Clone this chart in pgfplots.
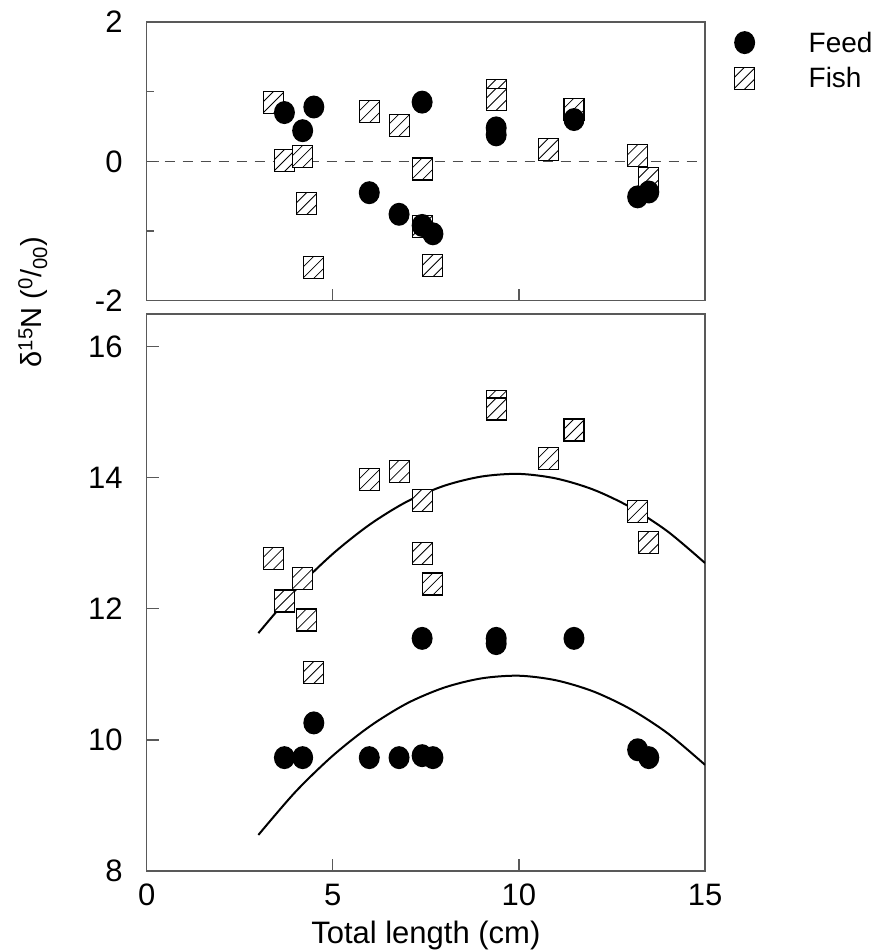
\documentclass[border=0pt]{standalone}
\usepackage{fontspec}
\setmainfont{Liberation Sans}
\usepackage{pgfplots}
\usepackage{pgfplotstable}
\pgfplotsset{compat=1.18}

% filled black ellipse (the source is slightly stretched vertically)
\pgfdeclareplotmark{feed}{%
  \pgfscope
  \pgfsetfillcolor{black}%
  \pgfpathellipse{\pgfpointorigin}{\pgfqpoint{10.5pt}{0pt}}{\pgfqpoint{0pt}{11.5pt}}%
  \pgfusepathqfill
  \endpgfscope}
% white square with three hatch lines
\pgfdeclareplotmark{fish}{%
  \pgfscope
  \pgfsetfillcolor{white}\pgfsetstrokecolor{black}%
  \pgfpathrectangle{\pgfqpoint{-10pt}{-11pt}}{\pgfqpoint{20pt}{22pt}}%
  \pgfusepathqfill
  \pgfscope
    \pgfpathrectangle{\pgfqpoint{-10pt}{-11pt}}{\pgfqpoint{20pt}{22pt}}%
    \pgfusepathqclip
    \pgfsetlinewidth{0.8pt}%
    \pgfpathmoveto{\pgfqpoint{-16pt}{-27pt}}\pgfpathlineto{\pgfqpoint{16pt}{5pt}}%
    \pgfpathmoveto{\pgfqpoint{-16pt}{-16pt}}\pgfpathlineto{\pgfqpoint{16pt}{16pt}}%
    \pgfpathmoveto{\pgfqpoint{-16pt}{-5pt}}\pgfpathlineto{\pgfqpoint{16pt}{27pt}}%
    \pgfusepathqstroke
  \endpgfscope
  \pgfsetlinewidth{1.1pt}%
  \pgfpathrectangle{\pgfqpoint{-10pt}{-11pt}}{\pgfqpoint{20pt}{22pt}}%
  \pgfusepathqstroke
  \endpgfscope}

% difference panel (top)
\pgfplotstableread{
len   d
3.40  0.84
3.70  0.01
4.19  0.07
4.29 -0.61
4.49 -1.52
5.98  0.71
6.78  0.52
7.40 -0.11
7.40 -0.93
7.69 -1.50
9.39  1.02
9.39  0.89
10.79 0.17
11.48 0.75
13.19 0.08
13.49 -0.25
}\fishtop
\pgfplotstableread{
len   d
3.70  0.70
4.19  0.44
4.49  0.78
5.98 -0.45
6.78 -0.76
7.40  0.85
7.40 -0.92
7.69 -1.04
9.39  0.48
9.39  0.38
11.48 0.60
13.19 -0.51
13.49 -0.44
}\feedtop
% absolute values (bottom)
\pgfplotstableread{
len   n
3.40  12.77
3.70  12.12
4.19  12.46
4.29  11.83
4.49  11.03
5.98  13.97
6.78  14.10
7.40  13.66
7.40  12.85
7.69  12.38
9.39  15.17
9.39  15.05
10.79 14.29
11.48 14.73
13.19 13.49
13.49 13.01
}\fishbot
\pgfplotstableread{
len   n
3.70  9.73
4.19  9.73
4.49  10.26
5.98  9.73
6.78  9.73
7.40  9.76
7.69  9.73
7.40  11.55
9.39  11.55
9.39  11.47
11.48 11.55
13.19 9.85
13.49 9.73
}\feedbot
% fitted curves
\pgfplotstableread{
len  fish   feed
3    11.63  8.55
4    12.29  9.21
5    12.84  9.76
6    13.29  10.21
7    13.64  10.56
8    13.88  10.80
9    14.02  10.94
10   14.06  10.98
11   13.99  10.91
12   13.82  10.74
13   13.55  10.47
14   13.18  10.10
15   12.70  9.62
}\fits

\pgfplotsset{
  panel/.style={
    scale only axis, width=558.3pt, xmin=0, xmax=15,
    axis line style={draw=black!65, line width=1.5pt},
    tick style={draw=black!65, line width=1.2pt},
    tick align=inside, xtick pos=bottom, ytick pos=left,
    major tick length=12pt, minor tick length=7pt,
    /pgf/number format/assume math mode=true,
    tick label style={font=\fontsize{31}{36}\selectfont, inner sep=0pt},
    yticklabel style={xshift=-24pt},
    xticklabel style={yshift=-13pt},
  }
}

\begin{document}
\begin{tikzpicture}
\useasboundingbox (0,0) rectangle (883pt,952pt);

\begin{axis}[panel,
  at={(146.7pt,651.3pt)}, anchor=south west, height=278.7pt,
  ymin=-2, ymax=2, ytick={-2,0,2}, yticklabels={-2,0,2},
  minor ytick={-1,1},
  xtick={5,10}, xticklabels={},
  ylabel={δ\textsuperscript{15}N (\textsuperscript{0}/\textsubscript{00})},
  ylabel style={at={(axis description cs:-0.204,-0.005)}, anchor=center,
    font=\fontsize{29}{34}\selectfont},
  legend style={at={(axis description cs:1.042,0.968)}, anchor=north west,
    draw=none, fill=none, inner sep=0pt, row sep=-3pt, column sep=48pt,
    font=\fontsize{28}{32}\selectfont, nodes={inner sep=0pt}},
  legend cell align=left,
]
\addplot[forget plot, draw=black!70, line width=1.5pt, dash pattern=on 10pt off 8pt]
  coordinates {(0,0) (15,0)};
\addplot[forget plot, only marks, mark=fish] table[x=len, y=d] {\fishtop};
\addplot[forget plot, only marks, mark=feed] table[x=len, y=d] {\feedtop};
\addlegendimage{legend image code/.code={\pgfuseplotmark{feed}}}
\addlegendentry{Feed}
\addlegendimage{legend image code/.code={\pgfuseplotmark{fish}}}
\addlegendentry{Fish}
\end{axis}

\begin{axis}[panel,
  at={(146.7pt,81pt)}, anchor=south west, height=557pt,
  ymin=8, ymax=16.5, ytick={8,10,12,14,16},
  xtick={0,5,10,15},
  xlabel={Total length (cm)},
  xlabel style={at={(axis description cs:0.5,-0.115)}, anchor=center,
    font=\fontsize{31}{36}\selectfont},
]
\addplot[only marks, mark=fish] table[x=len, y=n] {\fishbot};
\addplot[only marks, mark=feed] table[x=len, y=n] {\feedbot};
\addplot[black, line width=2pt, smooth] table[x=len, y=fish] {\fits};
\addplot[black, line width=2pt, smooth] table[x=len, y=feed] {\fits};
\end{axis}
\end{tikzpicture}
\end{document}
